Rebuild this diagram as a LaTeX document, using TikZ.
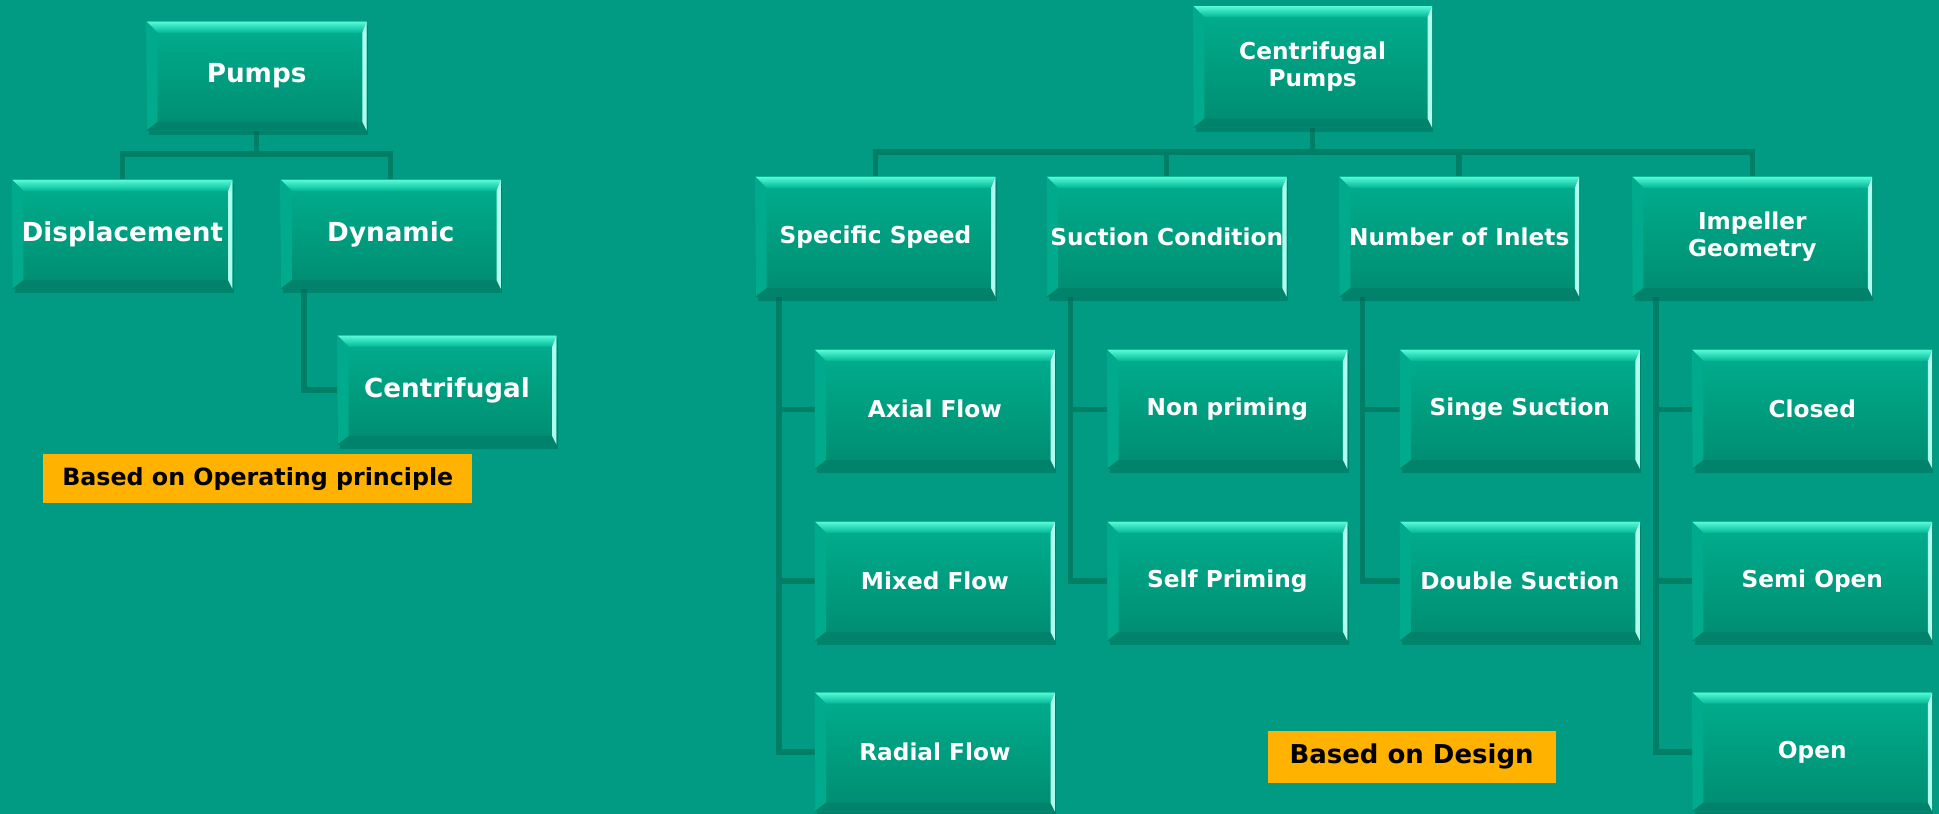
\documentclass[tikz,border=0pt]{standalone}
\usepackage{fontspec}
\setmainfont{DejaVu Sans}
\usetikzlibrary{calc}
\definecolor{bgc}{RGB}{0,155,130}
\definecolor{facetop}{RGB}{0,174,142}
\definecolor{facebot}{RGB}{0,140,113}
\definecolor{bevtopa}{RGB}{85,250,215}
\definecolor{bevtopb}{RGB}{0,182,148}
\definecolor{bevleftc}{RGB}{0,170,140}
\definecolor{bevbotc}{RGB}{0,131,106}
\definecolor{bevrightc}{RGB}{175,255,240}
\definecolor{shc}{RGB}{0,95,78}
\definecolor{connc}{RGB}{0,126,102}
\definecolor{labc}{RGB}{255,179,0}
\pgfdeclarelayer{bgl}
\pgfdeclarelayer{lines}
\pgfdeclarelayer{boxes}
\pgfsetlayers{bgl,lines,boxes,main}
\newcommand\bev[1]{%
\begin{pgfonlayer}{boxes}
\fill[shc,opacity=.4] ($(#1.north west)+(2,3)$) rectangle ($(#1.south east)+(1,3.5)$);
\shade[top color=facetop,bottom color=facebot] (#1.north west) rectangle (#1.south east);
\shade[top color=bevtopa,bottom color=bevtopb] (#1.north west) -- (#1.north east) -- ($(#1.north east)+(-3.5,9)$) -- ($(#1.north west)+(9,9)$) -- cycle;
\fill[bevleftc] (#1.north west) -- ($(#1.north west)+(9,9)$) -- ($(#1.south west)+(9,-7)$) -- (#1.south west) -- cycle;
\fill[bevbotc] (#1.south west) -- ($(#1.south west)+(9,-7)$) -- ($(#1.south east)+(-3.5,-7)$) -- (#1.south east) -- cycle;
\fill[bevrightc] (#1.north east) -- ($(#1.north east)+(-3.5,9)$) -- ($(#1.south east)+(-3.5,-7)$) -- (#1.south east) -- cycle;
\end{pgfonlayer}}
\tikzset{
  lbox/.style={minimum width=89pt,minimum height=44pt,inner sep=0pt,outer sep=0pt,text=white,align=center,font=\bfseries\fontsize{10.6}{12.5}\selectfont},
  rbox/.style={minimum width=97pt,minimum height=48.5pt,inner sep=0pt,outer sep=0pt,text=white,align=center,font=\bfseries\fontsize{9.4}{11}\selectfont},
  cbox/.style={rbox,minimum height=48pt},
  conn/.style={draw=connc,line width=2.2pt},
  ylab/.style={fill=labc,inner sep=0pt,outer sep=0pt,text=black,font=\bfseries\fontsize{10.5}{12}\selectfont}
}
\begin{document}
\begin{tikzpicture}[x=0.5pt,y=-0.5pt]
\begin{pgfonlayer}{bgl}
\fill[bgc] (0,0) rectangle (1568,658);
\end{pgfonlayer}
\useasboundingbox (0,0) rectangle (1568,658);
% left tree
\node[lbox] (pumps) at (207.5,61.5) {Pumps};
\node[lbox] (disp) at (99,189.5) {Displacement};
\node[lbox] (dyn) at (316,189.5) {Dynamic};
\node[lbox,minimum width=88.5pt] (cent) at (361.5,315.5) {Centrifugal};
\foreach \n in {pumps,disp,dyn,cent}{\bev{\n}}
\begin{pgfonlayer}{lines}
\draw[conn] (pumps.south) -- ++(0,19) -| (disp.north);
\draw[conn] (pumps.south) -- ++(0,19) -| (dyn.north);
\draw[conn] ($(dyn.south west)+(19,0)$) |- (cent.west);
\end{pgfonlayer}
\node[ylab,minimum width=173.5pt,minimum height=20pt,font=\bfseries\fontsize{9.6}{11}\selectfont] (lab1) at (208.5,387) {Based on Operating principle};
% right tree
\node[rbox,minimum width=96.5pt,minimum height=49pt] (cp) at (1061.5,54) {Centrifugal\\Pumps};
\node[rbox] (ss) at (708,191.5) {Specific Speed};
\node[rbox] (sc) at (943.5,191.5) {Suction Condition};
\node[rbox] (ni) at (1180,191.5) {Number of Inlets};
\node[rbox] (ig) at (1417,191.5) {Impeller\\Geometry};
\node[cbox] (af) at (756,331) {Axial Flow};
\node[cbox] (mf) at (756,470) {Mixed Flow};
\node[cbox] (rf) at (756,608) {Radial Flow};
\node[cbox] (np) at (992.5,331) {Non priming};
\node[cbox] (sp) at (992.5,470) {Self Priming};
\node[cbox] (ssu) at (1229,331) {Singe Suction};
\node[cbox] (ds) at (1229,470) {Double Suction};
\node[cbox] (cl) at (1465.5,331) {Closed};
\node[cbox] (so) at (1465.5,470) {Semi Open};
\node[cbox] (op) at (1465.5,608) {Open};
\foreach \n in {cp,ss,sc,ni,ig,af,mf,rf,np,sp,ssu,ds,cl,so,op}{\bev{\n}}
\begin{pgfonlayer}{lines}
\foreach \n in {ss,sc,ni,ig}{\draw[conn] (cp.south) -- ++(0,20) -| (\n.north);}
\foreach \p/\c in {ss/af,ss/mf,ss/rf,sc/np,sc/sp,ni/ssu,ni/ds,ig/cl,ig/so,ig/op}{\draw[conn] ($(\p.south west)+(19,0)$) |- (\c.west);}
\end{pgfonlayer}
\node[ylab,minimum width=116.5pt,minimum height=21pt] (lab2) at (1141.5,612) {Based on Design};
\end{tikzpicture}
\end{document}
